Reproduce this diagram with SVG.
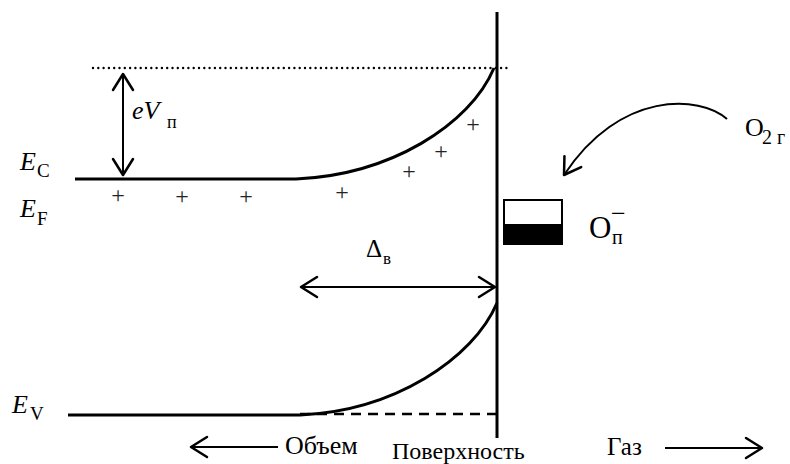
<svg xmlns="http://www.w3.org/2000/svg" width="790" height="464" viewBox="0 0 790 464" font-family="'Liberation Serif','Times New Roman',serif">
<style>
text{font-family:"Liberation Serif","Times New Roman",serif;fill:#000}
.it{font-style:italic}
.ln{fill:none;stroke:#000;stroke-width:3}
.thin{fill:none;stroke:#000;stroke-width:2}
.plus{font-size:24px;fill:#222;text-anchor:middle}
</style>
<defs>
<marker id="ah" markerUnits="userSpaceOnUse" viewBox="-18 -12 20 24" refX="0" refY="0" markerWidth="20" markerHeight="24" orient="auto-start-reverse">
<path d="M-16,-10 L0,0 L-16,10" fill="none" stroke="#000" stroke-width="2.5" stroke-linejoin="round" stroke-linecap="round"/>
</marker>
</defs>
<g id="surface">
<line x1="497" y1="12" x2="497" y2="438" class="ln"/>
</g>
<g id="vacuum-level">
<line x1="93" y1="68" x2="510" y2="68" stroke="#000" stroke-width="2.4" stroke-linecap="round" stroke-dasharray="0 5.3"/>
</g>
<g id="conduction-band">
<path d="M75,179 L296,179 C390,175 470,125 494,68" class="ln"/>
<text x="20" y="170" class="it" font-size="26">E</text>
<text x="37" y="177" font-size="19">C</text>
</g>
<g id="fermi-level">
<text x="20" y="217" class="it" font-size="26">E</text>
<text x="37" y="225" font-size="19">F</text>
</g>
<g id="valence-band">
<path d="M68,415 L300,415 C394,411 473,359 497,303" class="ln"/>
<line x1="300" y1="414" x2="500" y2="414" stroke="#000" stroke-width="2.5" stroke-dasharray="10 7"/>
<text x="12" y="413" class="it" font-size="26">E</text>
<text x="30" y="420" font-size="19">V</text>
</g>
<g id="charges">
<text x="118" y="203" class="plus">+</text>
<text x="182" y="204" class="plus">+</text>
<text x="246" y="204" class="plus">+</text>
<text x="342" y="200" class="plus">+</text>
<text x="409" y="179" class="plus">+</text>
<text x="441" y="159" class="plus">+</text>
<text x="473" y="132" class="plus">+</text>
</g>
<g id="surface-state">
<rect x="504" y="200" width="58" height="44" fill="#fff" stroke="#000" stroke-width="2"/>
<rect x="504" y="224" width="58" height="20" fill="#000"/>
<text x="589" y="238" font-size="31">O</text>
<text x="612" y="244" font-size="20">п</text>
<text x="611" y="222" font-size="26">−</text>
</g>
<g id="gas-molecule">
<text x="745" y="136" font-size="26">O</text>
<text x="762" y="144" font-size="20">2 г</text>
</g>
<g id="labels">
<text x="132" y="119" font-size="26"><tspan class="it">eV</tspan></text>
<text x="167" y="128" font-size="18">п</text>
<text x="366" y="257" font-size="25">Δ</text>
<text x="383" y="264" font-size="17">в</text>
<text x="285" y="454" font-size="26">Объем</text>
<text x="392" y="459" font-size="24">Поверхность</text>
<text x="607" y="455" font-size="25">Газ</text>
</g>
<g id="connectors">
<line x1="123" y1="74" x2="123" y2="175" class="thin" stroke-width="2.5" marker-start="url(#ah)" marker-end="url(#ah)"/>
<line x1="301" y1="287" x2="495" y2="287" class="thin" stroke-width="2.5" marker-start="url(#ah)" marker-end="url(#ah)"/>
<path d="M727,119 C700,95 620,90 564,175" class="thin" stroke-width="2.5" marker-end="url(#ah)"/>
<line x1="278" y1="447" x2="191" y2="447" class="thin" marker-end="url(#ah)"/>
<line x1="665" y1="448" x2="762" y2="448" class="thin" marker-end="url(#ah)"/>
</g>
</svg>
